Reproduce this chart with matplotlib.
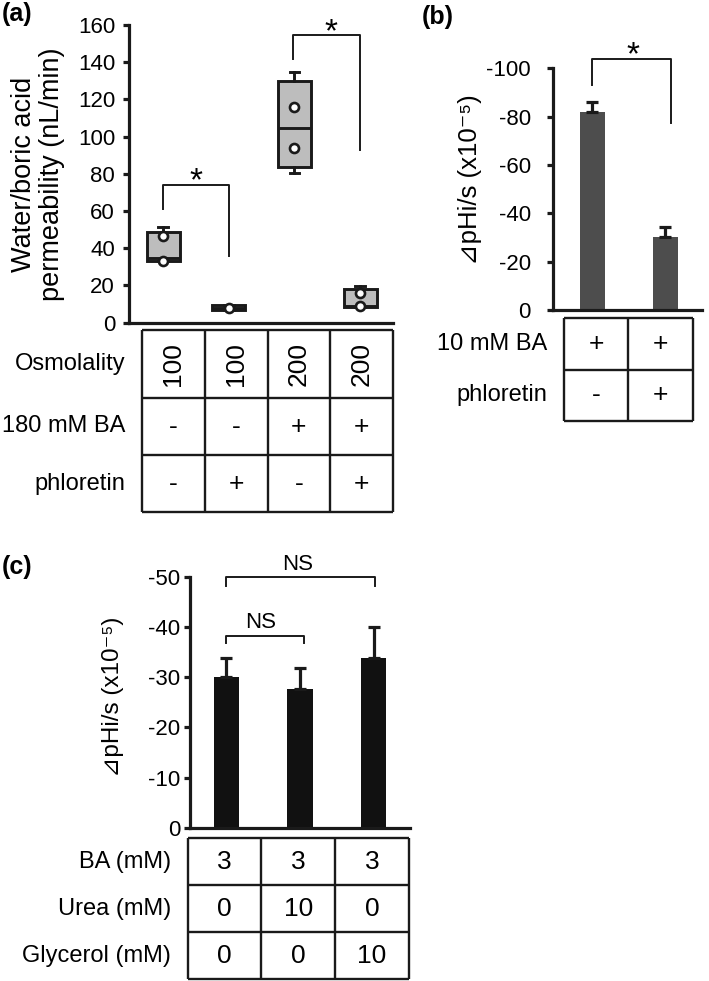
import numpy as np
import matplotlib
matplotlib.use("Agg")
import matplotlib.pyplot as plt

plt.rcParams["font.family"] = ["Liberation Sans", "DejaVu Sans"]
plt.rcParams["axes.unicode_minus"] = False

# ---------------- data ----------------
# (a) box plots: water/boric acid permeability (nL/min)
a_pos = [1, 2, 3, 4]
a_q1 = [33.0, 7.0, 83.5, 8.6]
a_med = [35.0, 8.0, 104.5, 9.2]
a_q3 = [49.0, 9.3, 130.0, 18.0]
a_lo = [33.0, 7.0, 80.5, 8.6]
a_hi = [51.5, 9.3, 134.5, 19.8]
a_points = [[46.5, 33.3], [8.0], [115.8, 93.7], [15.8, 9.2]]
a_rows = ["Osmolality", "180 mM BA", "phloretin"]
a_osm = ["100", "100", "200", "200"]
a_ba = ["-", "-", "+", "+"]
a_phl = ["-", "+", "-", "+"]

# (b) bars
b_pos = [1, 2]
b_vals = [-81.8, -30.1]
b_err = [4.4, 4.1]
b_rows = ["10 mM BA", "phloretin"]
b_ba = ["+", "+"]
b_phl = ["-", "+"]

# (c) bars
c_pos = [1, 2, 3]
c_vals = [-30.0, -27.6, -33.9]
c_err = [3.9, 4.2, 6.0]
c_rows = ["BA (mM)", "Urea (mM)", "Glycerol (mM)"]
c_ba = ["3", "3", "3"]
c_urea = ["0", "10", "0"]
c_gly = ["0", "0", "10"]

W, H = 709, 981
fig = plt.figure(figsize=(W / 100, H / 100), dpi=100)

DARK = "#1a1a1a"
YLAB = "⊿pHi/s (x10⁻⁵)"


def px_axes(left, top, right, bottom):
    return fig.add_axes([left / W, 1 - bottom / H, (right - left) / W, (bottom - top) / H])


def fig_text(x, y, s, **kw):
    fig.text(x / W, 1 - y / H, s, **kw)


def style_axis(ax, pad):
    for side in ("top", "right"):
        ax.spines[side].set_visible(False)
    for side in ("left", "bottom"):
        ax.spines[side].set_linewidth(2.3)
        ax.spines[side].set_color(DARK)
    ax.set_xticks([])
    ax.tick_params(axis="y", direction="out", length=4, width=2.3, labelsize=16,
                   pad=pad, color=DARK)


def bracket(ax, x1, x2, y1, y2, top):
    ax.plot([x1, x1, x2, x2], [y1, top, top, y2], color=DARK, lw=1.4, clip_on=False)


def draw_table(ax, rows, heights, rotate_first=False, cell_fs=19, label_fs=17):
    ncol = len(rows[0][1])
    edges = np.concatenate([[0], np.cumsum(heights)])
    ax.set_xlim(0, ncol)
    ax.set_ylim(edges[-1], 0)
    ax.axis("off")
    ax.hlines(edges, 0, ncol, color=DARK, lw=1.7, clip_on=False)
    ax.vlines(np.arange(ncol + 1), 0, edges[-1], color=DARK, lw=1.7, clip_on=False)
    for i, (label, vals) in enumerate(rows):
        yc = (edges[i] + edges[i + 1]) / 2
        ax.annotate(label, xy=(0, yc), xytext=(-12, 0), textcoords="offset points",
                    ha="right", va="center", fontsize=label_fs)
        for j, v in enumerate(vals):
            rot = 90 if (rotate_first and i == 0) else 0
            ax.text(j + 0.5, yc, v, ha="center", va="center", fontsize=cell_fs,
                    rotation=rot)


# ---------------- (a) ----------------
ax_a = px_axes(129, 25, 393, 322.7)
stats = []
for q1, med, q3, lo, hi in zip(a_q1, a_med, a_q3, a_lo, a_hi):
    stats.append(dict(q1=q1, med=med, q3=q3, whislo=lo, whishi=hi, fliers=[]))
ax_a.bxp(stats, positions=a_pos, widths=0.5, patch_artist=True, showfliers=False,
         capwidths=0.15,
         boxprops=dict(facecolor="#bdbdbd", edgecolor=DARK, linewidth=2.1),
         medianprops=dict(color=DARK, linewidth=2.1),
         whiskerprops=dict(color=DARK, linewidth=2.1),
         capprops=dict(color=DARK, linewidth=2.1))
for x, pts in zip(a_pos, a_points):
    ax_a.plot([x] * len(pts), pts, "o", mfc="white", mec=DARK, ms=6.5, mew=1.9, zorder=5)
ax_a.set_xlim(0.48, 4.5)
ax_a.set_ylim(0, 160)
ax_a.set_yticks(np.arange(0, 161, 20))
style_axis(ax_a, pad=6)
bracket(ax_a, 1, 2, 61, 36, 74)
ax_a.text(1.5, 71, "*", ha="center", va="baseline", fontsize=24)
bracket(ax_a, 2.97, 4, 141.5, 93, 154.5)
ax_a.text(3.55, 151, "*", ha="center", va="baseline", fontsize=24, clip_on=False)

fig_text(38, 174, "Water/boric acid\npermeability (nL/min)", rotation=90,
         ha="center", va="center", fontsize=19.5, multialignment="center",
         linespacing=1.1)

tab_a = px_axes(142, 330, 393, 512)
draw_table(tab_a, list(zip(a_rows, [a_osm, a_ba, a_phl])), [68, 57, 57], rotate_first=True)

# ---------------- (b) ----------------
ax_b = px_axes(553, 68.3, 702, 310)
ax_b.bar(b_pos, b_vals, width=0.34, color="#4d4d4d", zorder=2)
ax_b.errorbar(b_pos, b_vals, yerr=[b_err, [0] * len(b_err)], fmt="none", ecolor=DARK,
              elinewidth=2.3, capsize=4.5, capthick=2.3, zorder=3)
ax_b.set_xlim(0.46, 2.5)
ax_b.set_ylim(0, -100)
ax_b.set_yticks(np.arange(0, -101, -20))
style_axis(ax_b, pad=12)
bracket(ax_b, 1, 2.08, -93, -77.5, -103.8)
ax_b.text(1.55, -101.5, "*", ha="center", va="baseline", fontsize=24, clip_on=False)
fig_text(470, 180, YLAB, rotation=90, ha="center", va="center", fontsize=18.5)

tab_b = px_axes(564, 318.3, 692.7, 421)
draw_table(tab_b, list(zip(b_rows, [b_ba, b_phl])), [51.7, 51])

# ---------------- (c) ----------------
ax_c = px_axes(190, 576.7, 410, 827.7)
ax_c.bar(c_pos, c_vals, width=0.34, color="#111111", zorder=2)
ax_c.errorbar(c_pos, c_vals, yerr=[c_err, [0] * len(c_err)], fmt="none", ecolor=DARK,
              elinewidth=2.3, capsize=4.5, capthick=2.3, zorder=3)
ax_c.set_xlim(0.51, 3.49)
ax_c.set_ylim(0, -50)
ax_c.set_yticks(np.arange(0, -51, -10))
style_axis(ax_c, pad=3)
bracket(ax_c, 1, 2.05, -36.8, -36.8, -38.2)
ax_c.text(1.46, -39.8, "NS", ha="center", va="baseline", fontsize=16)
bracket(ax_c, 1, 3.01, -48.1, -48.1, -49.9)
ax_c.text(1.97, -51.3, "NS", ha="center", va="baseline", fontsize=16, clip_on=False)
fig_text(113, 697, YLAB, rotation=90, ha="center", va="center", fontsize=17.5)

tab_c = px_axes(187.7, 838.3, 409, 979)
draw_table(tab_c, list(zip(c_rows, [c_ba, c_urea, c_gly])), [46.7, 47.3, 46.7],
           cell_fs=19)

# panel letters
fig_text(2, 14, "(a)", fontsize=18, fontweight="bold", ha="left", va="center")
fig_text(422, 17, "(b)", fontsize=18, fontweight="bold", ha="left", va="center")
fig_text(2, 567, "(c)", fontsize=18, fontweight="bold", ha="left", va="center")

fig.savefig("out.png", dpi=100)
